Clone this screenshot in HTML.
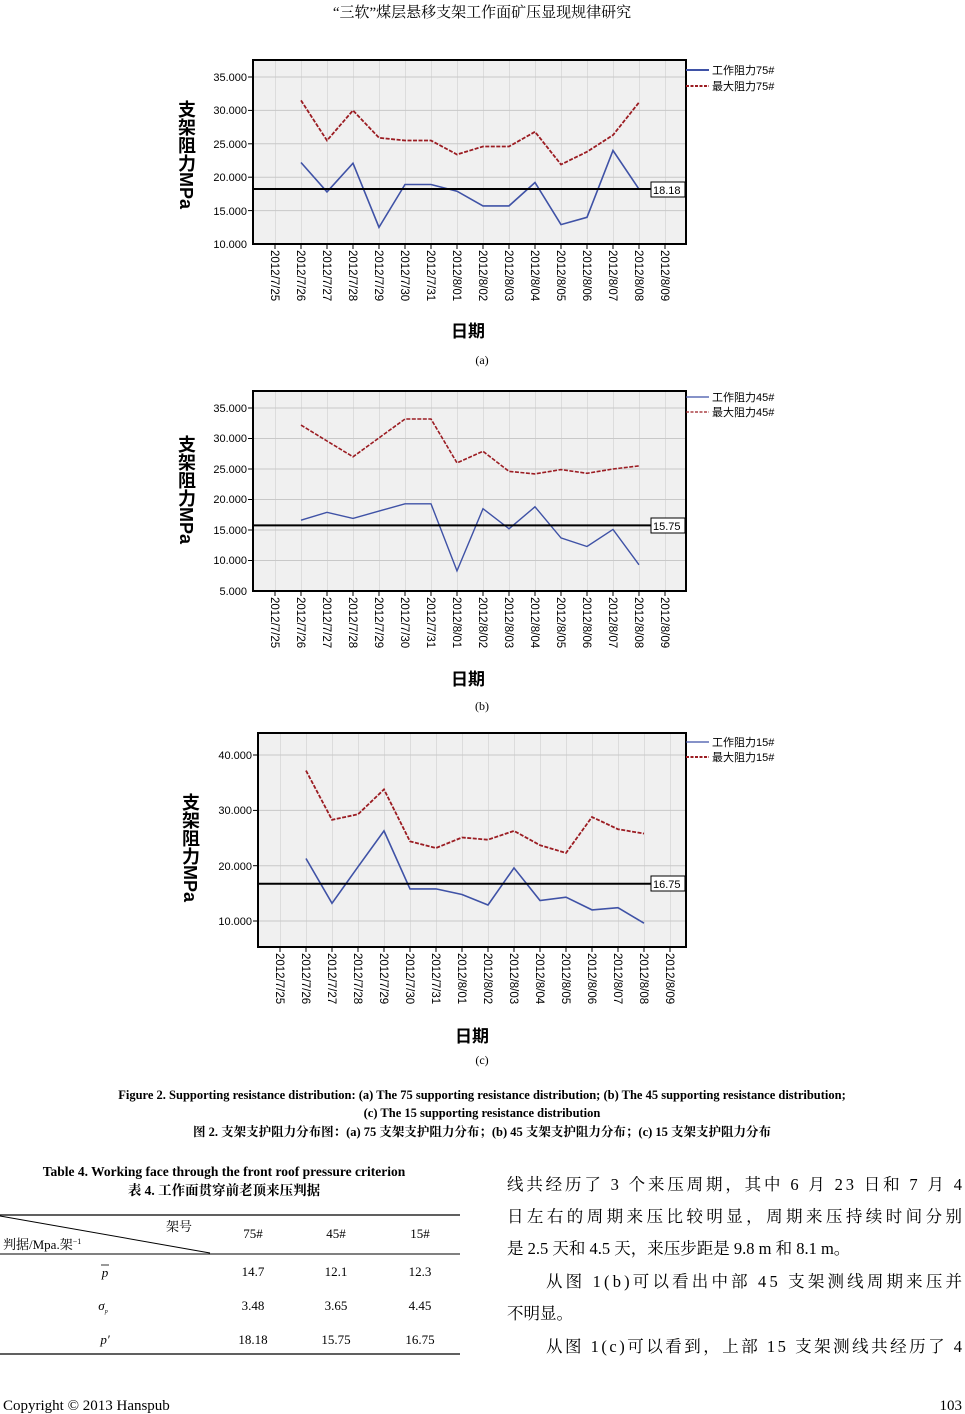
<!DOCTYPE html>
<html><head><meta charset="utf-8"><style>
body{margin:0;background:#fff;}
svg{display:block;}
.t{font-family:"Liberation Sans","Noto Sans CJK SC",sans-serif;}
.s{font-family:"Liberation Serif","Noto Serif CJK SC","Noto Sans CJK SC",serif;}
</style></head><body>
<svg width="965" height="1414" viewBox="0 0 965 1414" xmlns="http://www.w3.org/2000/svg">
<defs>
<pattern id="ga" x="275" y="0" width="26" height="2000" patternUnits="userSpaceOnUse"><line x1="0" y1="0" x2="0" y2="2000" stroke="#c8c8c8" stroke-width="1"/></pattern>
<pattern id="gc" x="280" y="0" width="26" height="2000" patternUnits="userSpaceOnUse"><line x1="0" y1="0" x2="0" y2="2000" stroke="#c8c8c8" stroke-width="1"/></pattern>
</defs>
<text x="482" y="17" text-anchor="middle" class="s" font-size="15">“三软”煤层悬移支架工作面矿压显现规律研究</text>

<!-- Chart A -->
<rect x="253" y="60" width="433" height="184" fill="#f0f0f0"/>
<rect x="253" y="60" width="433" height="184" fill="url(#ga)"/>
<g stroke="#c8c8c8"><line x1="253" x2="686" y1="77" y2="77"/><line x1="253" x2="686" y1="110.4" y2="110.4"/><line x1="253" x2="686" y1="143.8" y2="143.8"/><line x1="253" x2="686" y1="177.2" y2="177.2"/><line x1="253" x2="686" y1="210.6" y2="210.6"/></g>
<rect x="253" y="60" width="433" height="184" fill="none" stroke="#000" stroke-width="2"/>
<g class="t" font-size="11" text-anchor="end"><text x="247" y="81">35.000</text><text x="247" y="114">30.000</text><text x="247" y="148">25.000</text><text x="247" y="181">20.000</text><text x="247" y="215">15.000</text><text x="247" y="248">10.000</text></g>
<g stroke="#000"><line x1="248" x2="253" y1="77" y2="77"/><line x1="248" x2="253" y1="110.4" y2="110.4"/><line x1="248" x2="253" y1="143.8" y2="143.8"/><line x1="248" x2="253" y1="177.2" y2="177.2"/><line x1="248" x2="253" y1="210.6" y2="210.6"/></g>
<polyline fill="none" stroke="#9b1c22" stroke-width="1.8" stroke-dasharray="4,1.5" points="301,100.4 327,140.5 353,110.4 379,137.8 405,140.5 431,140.5 457,154.5 483,146.5 509,146.5 535,131.8 561,164.5 587,151.8 613,135.1 639,102.4"/>
<polyline fill="none" stroke="#3f52a6" stroke-width="1.6" points="301,162.5 327,191.9 353,163.2 379,227.3 405,184.5 431,184.5 457,191.2 483,205.9 509,205.9 535,182.5 561,224.6 587,217.3 613,150.5 639,189.2"/>
<line x1="253" x2="686" y1="189" y2="189" stroke="#000" stroke-width="2"/>
<rect x="651" y="182" width="34" height="15" fill="#fff" stroke="#000"/><text x="653" y="194" class="t" font-size="11">18.18</text>
<g class="t" font-size="11.5">
<text transform="translate(271,250) rotate(90)">2012/7/25</text><text transform="translate(297,250) rotate(90)">2012/7/26</text><text transform="translate(323,250) rotate(90)">2012/7/27</text><text transform="translate(349,250) rotate(90)">2012/7/28</text><text transform="translate(375,250) rotate(90)">2012/7/29</text><text transform="translate(401,250) rotate(90)">2012/7/30</text><text transform="translate(427,250) rotate(90)">2012/7/31</text><text transform="translate(453,250) rotate(90)">2012/8/01</text><text transform="translate(479,250) rotate(90)">2012/8/02</text><text transform="translate(505,250) rotate(90)">2012/8/03</text><text transform="translate(531,250) rotate(90)">2012/8/04</text><text transform="translate(557,250) rotate(90)">2012/8/05</text><text transform="translate(583,250) rotate(90)">2012/8/06</text><text transform="translate(609,250) rotate(90)">2012/8/07</text><text transform="translate(635,250) rotate(90)">2012/8/08</text><text transform="translate(661,250) rotate(90)">2012/8/09</text>
</g>
<g stroke="#000"><line x1="275" x2="275" y1="244" y2="249"/><line x1="301" x2="301" y1="244" y2="249"/><line x1="327" x2="327" y1="244" y2="249"/><line x1="353" x2="353" y1="244" y2="249"/><line x1="379" x2="379" y1="244" y2="249"/><line x1="405" x2="405" y1="244" y2="249"/><line x1="431" x2="431" y1="244" y2="249"/><line x1="457" x2="457" y1="244" y2="249"/><line x1="483" x2="483" y1="244" y2="249"/><line x1="509" x2="509" y1="244" y2="249"/><line x1="535" x2="535" y1="244" y2="249"/><line x1="561" x2="561" y1="244" y2="249"/><line x1="587" x2="587" y1="244" y2="249"/><line x1="613" x2="613" y1="244" y2="249"/><line x1="639" x2="639" y1="244" y2="249"/><line x1="665" x2="665" y1="244" y2="249"/></g>
<text x="468" y="337" text-anchor="middle" class="t" font-size="17" font-weight="bold">日期</text>
<text x="482" y="364" text-anchor="middle" class="s" font-size="12">(a)</text>
<text transform="translate(186,100)" class="t" font-size="18" style="writing-mode:vertical-rl" font-weight="bold">支架阻力MPa</text>
<line x1="686" x2="709" y1="70" y2="70" stroke="#3f52a6" stroke-width="2"/><text x="712" y="74" class="t" font-size="11">工作阻力75#</text>
<line x1="686" x2="709" y1="86" y2="86" stroke="#9b1c22" stroke-width="2" stroke-dasharray="3,1.5"/><text x="712" y="90" class="t" font-size="11">最大阻力75#</text>

<!-- Chart B -->
<rect x="253" y="391" width="433" height="200" fill="#f0f0f0"/>
<rect x="253" y="391" width="433" height="200" fill="url(#ga)"/>
<g stroke="#c8c8c8"><line x1="253" x2="686" y1="408" y2="408"/><line x1="253" x2="686" y1="438.5" y2="438.5"/><line x1="253" x2="686" y1="469" y2="469"/><line x1="253" x2="686" y1="499.5" y2="499.5"/><line x1="253" x2="686" y1="530" y2="530"/><line x1="253" x2="686" y1="560.5" y2="560.5"/></g>
<rect x="253" y="391" width="433" height="200" fill="none" stroke="#000" stroke-width="2"/>
<g class="t" font-size="11" text-anchor="end"><text x="247" y="412">35.000</text><text x="247" y="442">30.000</text><text x="247" y="473">25.000</text><text x="247" y="503">20.000</text><text x="247" y="534">15.000</text><text x="247" y="564">10.000</text><text x="247" y="595">5.000</text></g>
<g stroke="#000"><line x1="248" x2="253" y1="408" y2="408"/><line x1="248" x2="253" y1="438.5" y2="438.5"/><line x1="248" x2="253" y1="469" y2="469"/><line x1="248" x2="253" y1="499.5" y2="499.5"/><line x1="248" x2="253" y1="530" y2="530"/><line x1="248" x2="253" y1="560.5" y2="560.5"/></g>
<polyline fill="none" stroke="#9b1c22" stroke-width="1.6" stroke-dasharray="4,1.5" points="301,425.1 327,441 353,456.8 379,437.9 405,419 431,419 457,462.9 483,451.3 509,471.4 535,473.9 561,469.6 587,473.3 613,469 639,465.9"/>
<polyline fill="none" stroke="#3f52a6" stroke-width="1.4" points="301,520.2 327,512.3 353,518.4 379,511.1 405,503.8 431,503.8 457,570.9 483,508.7 509,528.8 535,506.8 561,537.9 587,546.5 613,529.4 639,564.8"/>
<line x1="253" x2="686" y1="525.4" y2="525.4" stroke="#000" stroke-width="2"/>
<rect x="651" y="518" width="34" height="15" fill="#fff" stroke="#000"/><text x="653" y="530" class="t" font-size="11">15.75</text>
<g class="t" font-size="11.5">
<text transform="translate(271,597) rotate(90)">2012/7/25</text><text transform="translate(297,597) rotate(90)">2012/7/26</text><text transform="translate(323,597) rotate(90)">2012/7/27</text><text transform="translate(349,597) rotate(90)">2012/7/28</text><text transform="translate(375,597) rotate(90)">2012/7/29</text><text transform="translate(401,597) rotate(90)">2012/7/30</text><text transform="translate(427,597) rotate(90)">2012/7/31</text><text transform="translate(453,597) rotate(90)">2012/8/01</text><text transform="translate(479,597) rotate(90)">2012/8/02</text><text transform="translate(505,597) rotate(90)">2012/8/03</text><text transform="translate(531,597) rotate(90)">2012/8/04</text><text transform="translate(557,597) rotate(90)">2012/8/05</text><text transform="translate(583,597) rotate(90)">2012/8/06</text><text transform="translate(609,597) rotate(90)">2012/8/07</text><text transform="translate(635,597) rotate(90)">2012/8/08</text><text transform="translate(661,597) rotate(90)">2012/8/09</text>
</g>
<g stroke="#000"><line x1="275" x2="275" y1="591" y2="596"/><line x1="301" x2="301" y1="591" y2="596"/><line x1="327" x2="327" y1="591" y2="596"/><line x1="353" x2="353" y1="591" y2="596"/><line x1="379" x2="379" y1="591" y2="596"/><line x1="405" x2="405" y1="591" y2="596"/><line x1="431" x2="431" y1="591" y2="596"/><line x1="457" x2="457" y1="591" y2="596"/><line x1="483" x2="483" y1="591" y2="596"/><line x1="509" x2="509" y1="591" y2="596"/><line x1="535" x2="535" y1="591" y2="596"/><line x1="561" x2="561" y1="591" y2="596"/><line x1="587" x2="587" y1="591" y2="596"/><line x1="613" x2="613" y1="591" y2="596"/><line x1="639" x2="639" y1="591" y2="596"/><line x1="665" x2="665" y1="591" y2="596"/></g>
<text x="468" y="685" text-anchor="middle" class="t" font-size="17" font-weight="bold">日期</text>
<text x="482" y="710" text-anchor="middle" class="s" font-size="12">(b)</text>
<text transform="translate(186,435)" class="t" font-size="18" style="writing-mode:vertical-rl" font-weight="bold">支架阻力MPa</text>
<line x1="686" x2="709" y1="397" y2="397" stroke="#3f52a6" stroke-width="1.2"/><text x="712" y="401" class="t" font-size="11">工作阻力45#</text>
<line x1="686" x2="709" y1="412" y2="412" stroke="#9b1c22" stroke-width="1.2" stroke-dasharray="3,1.5"/><text x="712" y="416" class="t" font-size="11">最大阻力45#</text>

<!-- Chart C -->
<rect x="258" y="733" width="428" height="214" fill="#f0f0f0"/>
<rect x="258" y="733" width="428" height="214" fill="url(#gc)"/>
<g stroke="#c8c8c8"><line x1="258" x2="686" y1="755" y2="755"/><line x1="258" x2="686" y1="810.4" y2="810.4"/><line x1="258" x2="686" y1="865.7" y2="865.7"/><line x1="258" x2="686" y1="921" y2="921"/></g>
<rect x="258" y="733" width="428" height="214" fill="none" stroke="#000" stroke-width="2"/>
<g class="t" font-size="11" text-anchor="end"><text x="252" y="759">40.000</text><text x="252" y="814">30.000</text><text x="252" y="870">20.000</text><text x="252" y="925">10.000</text></g>
<g stroke="#000"><line x1="253" x2="258" y1="755" y2="755"/><line x1="253" x2="258" y1="810.4" y2="810.4"/><line x1="253" x2="258" y1="865.7" y2="865.7"/><line x1="253" x2="258" y1="921" y2="921"/></g>
<polyline fill="none" stroke="#9b1c22" stroke-width="1.8" stroke-dasharray="4,1.5" points="306,770.6 332,819.8 358,814.3 384,789.4 410,841.4 436,848 462,837.5 488,839.7 514,830.9 540,845.2 566,853 592,817 618,829.2 644,833.6"/>
<polyline fill="none" stroke="#3f52a6" stroke-width="1.6" points="306,858.5 332,903.3 358,866.8 384,830.9 410,888.9 436,888.9 462,894.5 488,905 514,867.9 540,900.5 566,897.2 592,909.9 618,907.7 644,923.2"/>
<line x1="258" x2="686" y1="883.7" y2="883.7" stroke="#000" stroke-width="2"/>
<rect x="651" y="876" width="34" height="15" fill="#fff" stroke="#000"/><text x="653" y="888" class="t" font-size="11">16.75</text>
<g class="t" font-size="11.5">
<text transform="translate(276,953) rotate(90)">2012/7/25</text><text transform="translate(302,953) rotate(90)">2012/7/26</text><text transform="translate(328,953) rotate(90)">2012/7/27</text><text transform="translate(354,953) rotate(90)">2012/7/28</text><text transform="translate(380,953) rotate(90)">2012/7/29</text><text transform="translate(406,953) rotate(90)">2012/7/30</text><text transform="translate(432,953) rotate(90)">2012/7/31</text><text transform="translate(458,953) rotate(90)">2012/8/01</text><text transform="translate(484,953) rotate(90)">2012/8/02</text><text transform="translate(510,953) rotate(90)">2012/8/03</text><text transform="translate(536,953) rotate(90)">2012/8/04</text><text transform="translate(562,953) rotate(90)">2012/8/05</text><text transform="translate(588,953) rotate(90)">2012/8/06</text><text transform="translate(614,953) rotate(90)">2012/8/07</text><text transform="translate(640,953) rotate(90)">2012/8/08</text><text transform="translate(666,953) rotate(90)">2012/8/09</text>
</g>
<g stroke="#000"><line x1="280" x2="280" y1="947" y2="952"/><line x1="306" x2="306" y1="947" y2="952"/><line x1="332" x2="332" y1="947" y2="952"/><line x1="358" x2="358" y1="947" y2="952"/><line x1="384" x2="384" y1="947" y2="952"/><line x1="410" x2="410" y1="947" y2="952"/><line x1="436" x2="436" y1="947" y2="952"/><line x1="462" x2="462" y1="947" y2="952"/><line x1="488" x2="488" y1="947" y2="952"/><line x1="514" x2="514" y1="947" y2="952"/><line x1="540" x2="540" y1="947" y2="952"/><line x1="566" x2="566" y1="947" y2="952"/><line x1="592" x2="592" y1="947" y2="952"/><line x1="618" x2="618" y1="947" y2="952"/><line x1="644" x2="644" y1="947" y2="952"/><line x1="670" x2="670" y1="947" y2="952"/></g>
<text x="472" y="1042" text-anchor="middle" class="t" font-size="17" font-weight="bold">日期</text>
<text x="482" y="1064" text-anchor="middle" class="s" font-size="12">(c)</text>
<text transform="translate(190,793)" class="t" font-size="18" style="writing-mode:vertical-rl" font-weight="bold">支架阻力MPa</text>
<line x1="686" x2="709" y1="742" y2="742" stroke="#3f52a6" stroke-width="1.2"/><text x="712" y="746" class="t" font-size="11">工作阻力15#</text>
<line x1="686" x2="709" y1="757" y2="757" stroke="#9b1c22" stroke-width="2" stroke-dasharray="3,1.5"/><text x="712" y="761" class="t" font-size="11">最大阻力15#</text>

<!-- captions -->
<g class="s" font-size="12.5" font-weight="bold" text-anchor="middle">
<text x="482" y="1099">Figure 2. Supporting resistance distribution: (a) The 75 supporting resistance distribution; (b) The 45 supporting resistance distribution;</text>
<text x="482" y="1117">(c) The 15 supporting resistance distribution</text>
<text x="482" y="1136">图 2.  支架支护阻力分布图：(a) 75 支架支护阻力分布；(b) 45 支架支护阻力分布；(c) 15 支架支护阻力分布</text>
</g>

<!-- table -->
<g class="s" text-anchor="middle">
<text x="224" y="1176" font-size="13.5" font-weight="bold">Table 4. Working face through the front roof pressure criterion</text>
<text x="224" y="1195" font-size="13.5" font-weight="bold">表 4.  工作面贯穿前老顶来压判据</text>
</g>
<line x1="0" x2="460" y1="1215" y2="1215" stroke="#000" stroke-width="1.3"/>
<line x1="0" x2="210" y1="1216" y2="1253" stroke="#000" stroke-width="1"/>
<line x1="0" x2="460" y1="1254" y2="1254" stroke="#000" stroke-width="1"/>
<line x1="0" x2="460" y1="1354" y2="1354" stroke="#000" stroke-width="1.3"/>
<g class="s" font-size="13">
<text x="166" y="1231">架号</text>
<text x="3" y="1249">判据/Mpa.架<tspan dy="-5" font-size="8">−1</tspan></text>
</g>
<g class="s" font-size="13" text-anchor="middle">
<text x="253" y="1238">75#</text><text x="336" y="1238">45#</text><text x="420" y="1238">15#</text>
<text x="105" y="1277" font-style="italic">p</text><line x1="101" x2="109" y1="1265" y2="1265" stroke="#000" stroke-width="0.8"/>
<text x="253" y="1276">14.7</text><text x="336" y="1276">12.1</text><text x="420" y="1276">12.3</text>
<text x="103" y="1310" font-style="italic">σ<tspan font-size="6" dy="3">p</tspan></text>
<text x="253" y="1310">3.48</text><text x="336" y="1310">3.65</text><text x="420" y="1310">4.45</text>
<text x="105" y="1344" font-style="italic">p′</text>
<text x="253" y="1344">18.18</text><text x="336" y="1344">15.75</text><text x="420" y="1344">16.75</text>
</g>

<!-- body text -->
<g class="s" font-size="16.5">
<text x="507" y="1190" textLength="455" lengthAdjust="spacing">线共经历了 3 个来压周期，其中 6 月 23 日和 7 月 4</text>
<text x="507" y="1222" textLength="455" lengthAdjust="spacing">日左右的周期来压比较明显，周期来压持续时间分别</text>
<text x="507" y="1254">是 2.5 天和 4.5 天，来压步距是 9.8 m 和 8.1 m。</text>
<text x="546" y="1287" textLength="416" lengthAdjust="spacing">从图 1(b)可以看出中部 45 支架测线周期来压并</text>
<text x="507" y="1319">不明显。</text>
<text x="546" y="1352" textLength="416" lengthAdjust="spacing">从图 1(c)可以看到，上部 15 支架测线共经历了 4</text>
</g>
<text x="3" y="1410" class="s" font-size="15">Copyright © 2013 Hanspub</text>
<text x="962" y="1410" class="s" font-size="15" text-anchor="end">103</text>
</svg>
</body></html>
